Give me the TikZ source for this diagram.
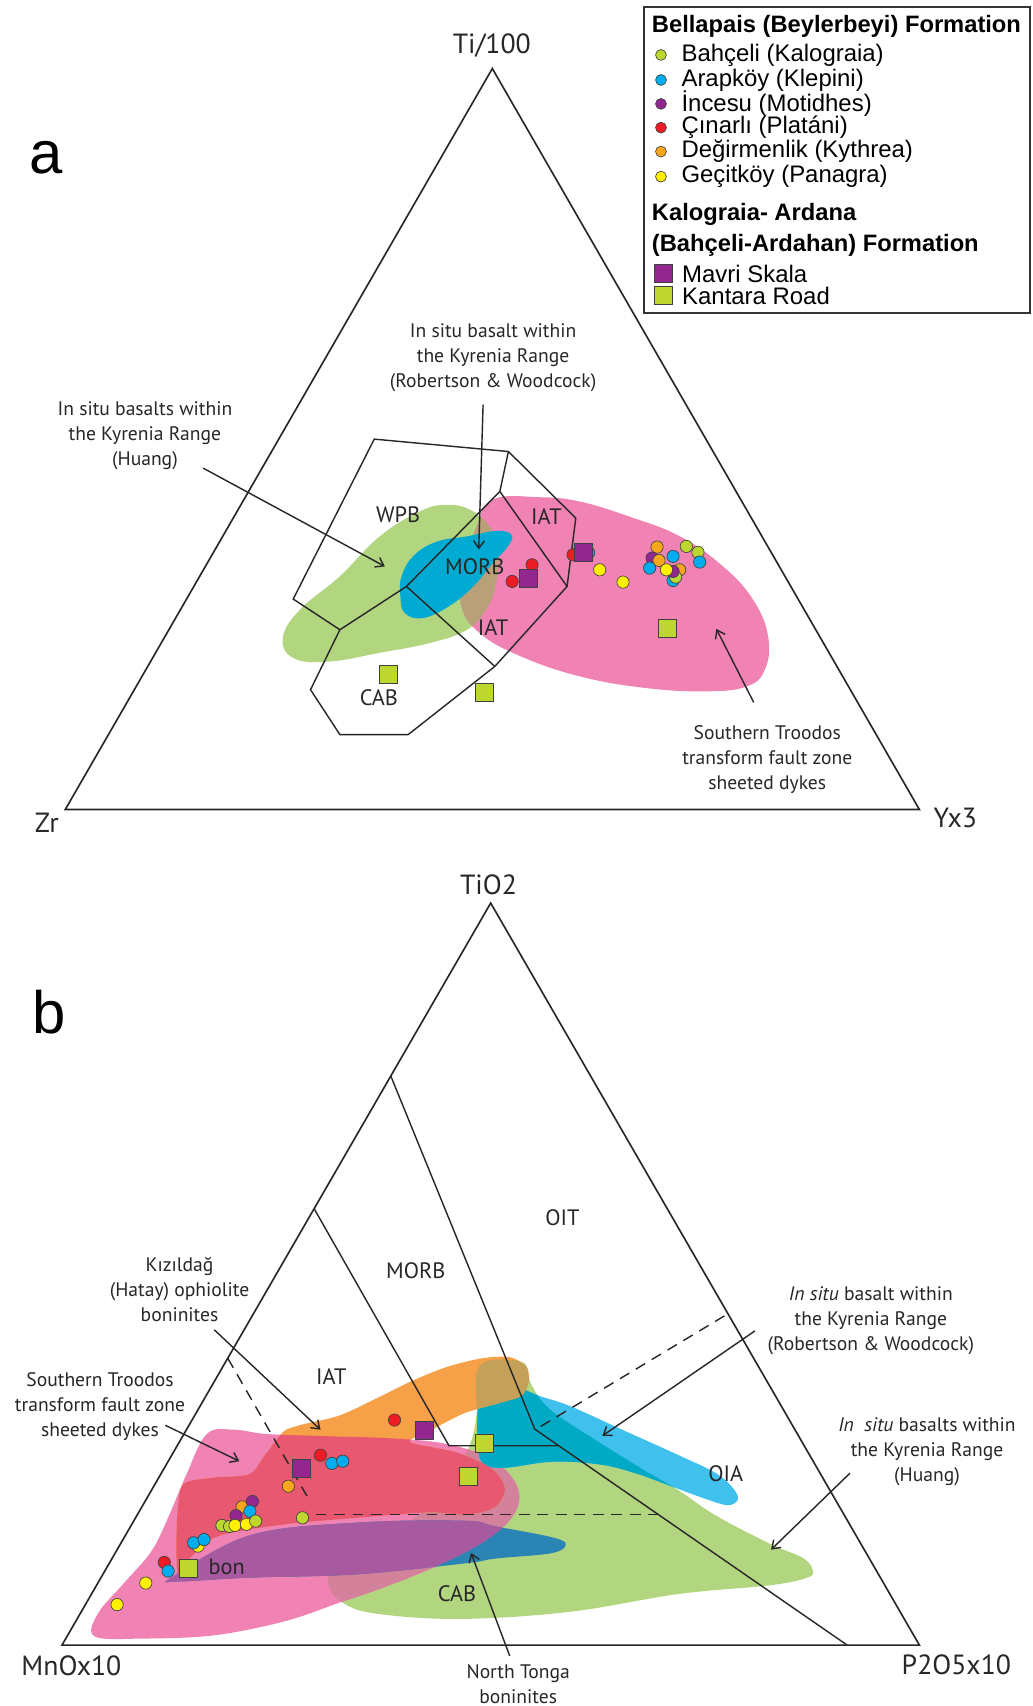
\documentclass[tikz,border=0pt]{standalone}
\usepackage{fontspec}
\setmainfont{PT Sans}
\newfontfamily\legfont{Liberation Sans}
\usetikzlibrary{arrows.meta}
\definecolor{ink}{RGB}{40,38,38}
\definecolor{cBah}{RGB}{190,214,48}
\definecolor{cAra}{RGB}{0,174,239}
\definecolor{cInc}{RGB}{146,39,143}
\definecolor{cCin}{RGB}{237,28,36}
\definecolor{cDeg}{RGB}{248,166,28}
\definecolor{cGec}{RGB}{255,240,0}
\definecolor{fGreen}{RGB}{178,213,128}
\definecolor{fPink}{RGB}{240,131,180}
\definecolor{fBlue}{RGB}{0,170,210}
\definecolor{fOlive}{RGB}{186,160,120}
\definecolor{fOrange}{RGB}{246,161,72}
\definecolor{fCyan}{RGB}{64,192,237}
\definecolor{fTeal}{RGB}{0,170,196}
\definecolor{fNavy}{RGB}{42,132,180}
\definecolor{fPurple}{RGB}{168,90,160}
\definecolor{fRed}{RGB}{232,88,112}
\definecolor{fMauve}{RGB}{212,130,155}
\definecolor{fOliveB}{RGB}{196,160,88}
\begin{document}
\begin{tikzpicture}[x=1pt,y=-1pt,
  tri/.style={line width=1.5pt, draw=ink, line join=miter},
  bnd/.style={line width=1.3pt, draw=ink, line join=miter},
  dsh/.style={line width=1.3pt, draw=ink, dash pattern=on 10pt off 7pt},
  arr/.style={line width=1.3pt, draw=ink, -{Straight Barb[length=7pt,width=10pt]}},
  dot/.style={circle, draw=black!75, line width=0.6pt, minimum size=11.3pt, inner sep=0pt},
  sqm/.style={rectangle, draw=black!75, line width=0.8pt, minimum size=16.5pt, inner sep=0pt},
  lbl/.style={font=\fontsize{18}{23}\selectfont, align=center, text=ink, inner sep=0pt},
  reg/.style={font=\fontsize{20.5}{22}\selectfont, text=ink, inner sep=0pt},
  axl/.style={font=\fontsize{25.5}{28}\selectfont, text=ink, inner sep=0pt},
  legh/.style={font=\legfont\bfseries\fontsize{21.8}{24}\selectfont, anchor=west, inner sep=0pt},
  legt/.style={font=\legfont\fontsize{22}{24}\selectfont, anchor=west, inner sep=0pt},
  ldot/.style={circle, draw=black!75, line width=0.6pt, minimum size=10pt, inner sep=0pt},
  lsq/.style={rectangle, draw=black!75, line width=0.8pt, minimum size=16.5pt, inner sep=0pt}
  ]
\useasboundingbox (0,0) rectangle (949,1568);
\fill[white] (0,0) rectangle (949,1568);

% ================= TRIANGLE A =================
\coordinate (aT) at (452.5,63);
\coordinate (aL) at (60,744);
\coordinate (aR) at (845,744);

\path[save path=\pGa] plot[smooth cycle, tension=0.7] coordinates {(260,586) (276,560) (312,530) (349,493) (386,470) (410,464) (432,468.5) (450,484) (458,505) (456,536) (447,560) (429,579) (395,591) (349,600) (303,608) (270,605)};
\path[save path=\pPa] plot[smooth cycle, tension=0.7] coordinates {(453,459) (496,457) (533,461) (579,475) (625,493) (664.5,520.6) (692,551) (706,585) (703,615.5) (686,631) (649,635.4) (594,632.4) (533,621.7) (478,603) (441,582) (424,557) (426,524) (438,484)};
\path[save path=\pBa] plot[smooth cycle, tension=0.7] coordinates {(369,530) (380,511) (401,498) (429,493) (456,488) (470,491.5) (467,502) (453,517.5) (435,539) (413,557) (389,568) (372,563.5) (368,548)};
\fill[fGreen, use path=\pGa];
\fill[fPink, use path=\pPa];
\begin{scope}
  \clip[use path=\pGa];
  \fill[fOlive, use path=\pPa];
\end{scope}
\fill[fBlue, use path=\pBa];

\draw[tri] (aT) -- (aR) -- (aL) -- cycle;

\coordinate (p1) at (344,403.6);
\coordinate (p2) at (467.3,415);
\coordinate (p3) at (529.2,476.2);
\coordinate (p4) at (521.2,539);
\coordinate (p5) at (454.8,612.5);
\coordinate (p6) at (375.1,675.2);
\coordinate (p7) at (312.4,675.2);
\coordinate (p8) at (285.4,633.9);
\coordinate (p9) at (312.4,578.8);
\coordinate (p10) at (269.5,550.6);
\coordinate (p11) at (459.4,451.7);
\coordinate (p12) at (373.6,539);
\draw[bnd] (p1) -- (p2) -- (p3) -- (p4) -- (p5) -- (p6) -- (p7) -- (p8) -- (p9) -- (p10) -- cycle;
\draw[bnd] (p2) -- (p11) -- (p4);
\draw[bnd] (p11) -- (p12) -- (p9);
\draw[bnd] (p12) -- (p5);

\node[reg] (aWPB) at (366,473) {WPB};
\node[reg] (aMORB) at (436.4,520.6) {MORB};
\node[reg] (aIAT1) at (502.2,474.7) {IAT};
\node[reg] (aIAT2) at (453.2,577.2) {IAT};
\node[reg] (aCAB) at (348.2,641.5) {CAB};

\node[axl] (aTi) at (452,42) {Ti/100};
\node[axl] (aZr) at (43,756) {Zr};
\node[axl] (aY) at (878,752) {Yx3};
\node[font=\legfont\fontsize{55}{55}\selectfont, inner sep=0pt] (aLet) at (42,145) {a};

\node[lbl] (aRW) at (453.2,329.2) {In situ basalt within\\the Kyrenia Range\\(Robertson \& Woodcock)};
\node[lbl] (aHu) at (133.2,400.5) {In situ basalts within\\the Kyrenia Range\\(Huang)};
\node[lbl] (aST) at (705.2,698.2) {Southern Troodos\\transform fault zone\\sheeted dykes};

\coordinate (ah1) at (186.8,430.3);
\coordinate (ah2) at (353.7,520.6);
\coordinate (ar1) at (444,372);
\coordinate (ar2) at (440,505);
\coordinate (as1) at (692.7,645.5);
\coordinate (as2) at (658.4,578.1);
\draw[arr] (ah1) -- (ah2);
\draw[arr] (ar1) -- (ar2);
\draw[arr] (as1) -- (as2);

\foreach \x/\y/\c [count=\i] in {
  489/519.1/cCin, 470.7/534.4/cCin, 526.7/509.9/cCin, 541/508/cAra,
  551.2/523.7/cGec, 572.6/535/cGec,
  603.9/502.8/cDeg, 599.3/512.9/cInc, 597.1/522.1/cAra, 605.7/515.1/cDeg,
  618.6/511.4/cAra, 630.8/502.2/cBah, 641.5/507.7/cBah, 643.1/516.6/cAra,
  624.7/523.7/cDeg, 618.6/533.5/cAra, 621/530.4/cBah, 618.6/525.2/cInc,
  612.5/523.7/cGec}
  \node[dot, fill=\c] (ad\i) at (\x,\y) {};
\foreach \x/\y/\c [count=\i] in {
  485.3/531.3/cInc, 535.9/507.4/cInc, 613.4/577.2/cBah, 357.4/620.1/cBah, 445/636.4/cBah}
  \node[sqm, fill=\c] (as\i) at (\x,\y) {};

% ================= LEGEND =================
\draw[line width=1.6pt, draw=black!80] (592,6.5) rectangle (946.5,287.5);
\node[legh] (lg0) at (599,23.9) {Bellapais (Beylerbeyi) Formation};
\node[ldot, fill=cBah] (lm1) at (607.5,50.5) {};
\node[legt] (lt1) at (626.2,50.5) {Bahçeli (Kalograia)};
\node[ldot, fill=cAra] (lm2) at (607.5,73.5) {};
\node[legt] (lt2) at (626.2,73.5) {Arapköy (Klepini)};
\node[ldot, fill=cInc] (lm3) at (607.5,95.5) {};
\node[legt] (lt3) at (626.2,95.5) {İncesu (Motidhes)};
\node[ldot, fill=cCin] (lm4) at (607.5,117.3) {};
\node[legt] (lt4) at (626.2,117.3) {Çınarlı (Platáni)};
\node[ldot, fill=cDeg] (lm5) at (607.5,139.3) {};
\node[legt] (lt5) at (626.2,139.3) {Değirmenlik (Kythrea)};
\node[ldot, fill=cGec] (lm6) at (607.5,162.3) {};
\node[legt] (lt6) at (626.2,162.3) {Geçitköy (Panagra)};
\node[legh] (lg1) at (599,197.5) {Kalograia- Ardana};
\node[legh] (lg2) at (599,225.1) {(Bahçeli-Ardahan) Formation};
\node[lsq, fill=cInc] (lm7) at (610,251.6) {};
\node[legt] (lt7) at (626.8,251.6) {Mavri Skala};
\node[lsq, fill=cBah] (lm8) at (610,271.8) {};
\node[legt] (lt8) at (626.8,271.8) {Kantara Road};

% ================= TRIANGLE B =================
\coordinate (bT) at (451,830);
\coordinate (bL) at (57,1512);
\coordinate (bR) at (845,1512);

\path[save path=\pGb] plot[smooth cycle, tension=0.6] coordinates {(441,1255) (480,1252) (488,1272) (505,1295) (545,1322) (590,1350) (624,1370) (658,1393) (708,1419) (738,1432) (747,1443) (742,1450) (708,1457) (624,1465) (523,1481.5) (422,1488) (345,1483) (315,1473) (302,1457) (305,1434) (328,1417) (377,1398) (404,1371) (423,1345) (433,1325) (438,1300)};
\path[save path=\pPb] plot[smooth cycle, tension=0.6] coordinates {(87,1504) (90,1483) (114,1455) (139,1426) (154,1396) (171,1356) (190,1318) (215,1314) (245,1318) (300,1320) (360,1322) (410,1327) (450,1340) (472,1360) (477,1380) (466,1400) (440,1420) (400,1440) (350,1460) (312,1473) (262,1490) (197,1503) (131,1506)};
\path[save path=\pOb] plot[smooth cycle, tension=0.5] coordinates {(256,1321) (263,1314) (279,1309) (312,1301) (344.5,1286) (377,1270) (410,1256.6) (443,1248.4) (469,1247.5) (484,1256.6) (486,1270) (479,1283) (459,1289.5) (426.5,1299) (394,1315.7) (377,1325.5) (420,1335) (452,1350) (464,1368) (455,1385) (430,1392) (393,1390) (328,1395) (262,1401) (200,1412) (172,1435) (164,1450) (162,1420) (164,1380) (170,1363) (197,1358) (229,1355) (243,1338)};
\path[save path=\pCb] plot[smooth cycle, tension=0.6] coordinates {(449.5,1256) (486,1279) (523,1292) (574,1315) (624,1337.6) (658,1354) (674.5,1368.7) (678,1378.5) (669,1383.4) (651,1378.5) (624,1368.7) (584,1354) (550,1345.8) (507,1343.5) (463,1349) (443,1344) (438.7,1318) (440,1279) (443,1261)};
\path[save path=\pNb] plot[smooth cycle, tension=0.6] coordinates {(157.5,1450) (230,1411) (328,1399.4) (426.5,1397.7) (456,1403) (507,1412.8) (520,1419.4) (507,1427.5) (456,1432.4) (426.5,1437) (328,1447) (230,1450) (164,1453.5)};

\fill[fGreen, use path=\pGb];
\fill[fPink, use path=\pPb];
\begin{scope}
  \clip[use path=\pPb];
  \fill[fMauve, use path=\pGb];
\end{scope}
\fill[fCyan, use path=\pCb];
\begin{scope}
  \clip[use path=\pGb];
  \fill[fTeal, use path=\pCb];
\end{scope}
\fill[fOrange, use path=\pOb];
\begin{scope}
  \clip[use path=\pGb];
  \fill[fOliveB, use path=\pOb];
\end{scope}
\begin{scope}
  \clip[use path=\pPb];
  \fill[fRed, use path=\pOb];
\end{scope}
\fill[fNavy, use path=\pNb];
\begin{scope}
  \clip[use path=\pPb];
  \fill[fPurple, use path=\pNb];
\end{scope}

\draw[tri] (bT) -- (bR) -- (bL) -- cycle;
\coordinate (m1) at (359.2,989);
\coordinate (m2) at (491.5,1313.5);
\coordinate (m3) at (778.6,1512);
\coordinate (i1) at (288.8,1111);
\coordinate (i2) at (412.7,1328.8);
\coordinate (i3) at (513.6,1328.8);
\draw[bnd] (m1) -- (m2) -- (m3);
\draw[bnd] (i1) -- (i2) -- (i3);
\coordinate (d1) at (209.4,1248.4);
\coordinate (d2) at (284.8,1379.7);
\coordinate (d3) at (290,1392);
\coordinate (d4) at (604.5,1392);
\coordinate (d5) at (497,1311);
\coordinate (d6) at (669,1207.5);
\draw[dsh] (d1) -- (d2);
\draw[dsh] (d3) -- (d4);
\draw[dsh] (d5) -- (d6);

\node[reg] (bOIT) at (517,1119.3) {OIT};
\node[reg] (bMORB) at (382.2,1168) {MORB};
\node[reg] (bIAT) at (304.5,1264.8) {IAT};
\node[reg] (bOIA) at (667,1354.6) {OIA};
\node[reg] (bbon) at (208.3,1440.4) {bon};
\node[reg] (bCAB) at (420,1465) {CAB};

\node[axl] (bTi) at (449,813) {TiO2};
\node[axl] (bMn) at (65.6,1530.6) {MnOx10};
\node[axl] (bP) at (879,1530) {P2O5x10};
\node[font=\legfont\fontsize{55}{55}\selectfont, inner sep=0pt] (bLet) at (45,930) {b};

\node[lbl] (bKz) at (165,1185.1) {Kızıldağ\\(Hatay) ophiolite\\boninites};
\node[lbl] (bST) at (91.9,1292.7) {Southern Troodos\\transform fault zone\\sheeted dykes};
\node[lbl] (bNT) at (476.3,1547.6) {North Tonga\\boninites};
\node[lbl] (bRW) at (800.4,1213.6) {\textit{In situ} basalt within\\the Kyrenia Range\\(Robertson \& Woodcock)};
\node[lbl] (bHu) at (852,1334.2) {\textit{In}\ \ \textit{situ} basalts within\\the Kyrenia Range\\(Huang)};

\coordinate (bk1) at (196.9,1222.2);
\coordinate (bk2) at (294.6,1314.1);
\coordinate (bs1) at (152,1310);
\coordinate (bs2) at (220,1343);
\coordinate (bn1) at (468.5,1522);
\coordinate (bn2) at (433,1427.4);
\coordinate (br1) at (693.9,1223.2);
\coordinate (br2) at (553.6,1319.7);
\coordinate (bh1) at (781.2,1354);
\coordinate (bh2) at (708.7,1424.3);
\draw[arr] (bk1) -- (bk2);
\draw[arr] (bs1) -- (bs2);
\draw[arr] (bn1) -- (bn2);
\draw[arr] (br1) -- (br2);
\draw[arr] (bh1) -- (bh2);

\foreach \x/\y/\c [count=\i] in {
  362.6/1305.2/cCin, 294.5/1337.5/cCin, 305/1345/cAra, 315/1343/cAra,
  265/1366/cDeg, 278/1395/cBah, 182/1421/cGec, 178/1418/cAra, 187.5/1415/cAra,
  151/1436/cCin, 154.5/1444/cAra, 134/1455/cGec, 107.6/1474.8/cGec,
  222.5/1385/cDeg, 232/1380/cInc, 229.7/1389/cAra, 217/1393/cInc,
  204/1402/cBah, 211/1403/cBah, 216/1402/cGec, 226.5/1401/cGec, 235/1398/cBah}
  \node[dot, fill=\c] (bd\i) at (\x,\y) {};
\foreach \x/\y/\c [count=\i] in {
  390.4/1315/cInc, 277.2/1350/cInc, 445.6/1327/cBah, 430.8/1356.7/cBah, 173.5/1441.5/cBah}
  \node[sqm, fill=\c] (bs\i) at (\x,\y) {};
\end{tikzpicture}
\end{document}
